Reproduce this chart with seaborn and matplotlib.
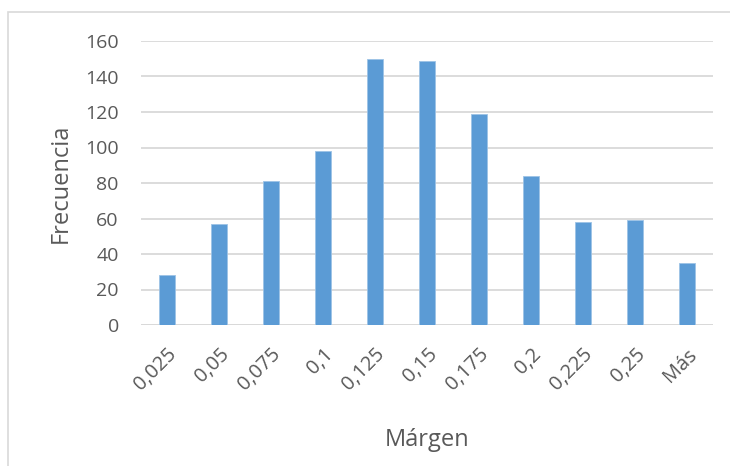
import matplotlib
matplotlib.use("Agg")
import matplotlib.pyplot as plt
import seaborn as sns
import pandas as pd
from matplotlib.patches import Rectangle

# Frequency histogram of margins (bins labelled by upper limit)
categories = ["0,025", "0,05", "0,075", "0,1", "0,125", "0,15",
              "0,175", "0,2", "0,225", "0,25", "Más"]
frequencies = [28, 57, 81, 98, 150, 149, 119, 84, 58, 59, 35]
y_ticks = [0, 20, 40, 60, 80, 100, 120, 140, 160]

df = pd.DataFrame({"Márgen": categories, "Frecuencia": frequencies})

sns.set_theme(style="white")
plt.rcParams["font.family"] = ["Open Sans", "DejaVu Sans"]

text_color = "#595959"
bar_color = "#5B9BD5"
grid_color = "#D9D9D9"

fig = plt.figure(figsize=(7.30, 4.66), dpi=100)
ax = fig.add_axes([141 / 730, 1 - 325 / 466, 572 / 730, 284 / 466])

sns.barplot(data=df, x="Márgen", y="Frecuencia", ax=ax, color=bar_color,
            width=0.31, saturation=1, edgecolor="#9DC3E6", linewidth=0.6,
            zorder=3)

ax.set_xlim(-0.5, len(categories) - 0.5)
ax.set_ylim(0, 160)
ax.set_yticks(y_ticks)
ax.set_yticklabels([str(v) for v in y_ticks])
ax.yaxis.grid(True, color=grid_color, linewidth=1.3, zorder=0)
ax.set_axisbelow(True)
for s in ax.spines.values():
    s.set_visible(False)
ax.axhline(0, color=grid_color, linewidth=1.3, zorder=1)

ax.tick_params(axis="both", length=0, colors=text_color)
ax.tick_params(axis="y", pad=16, labelsize=14)
ax.tick_params(axis="x", pad=14, labelsize=14.5)
for lbl in ax.get_xticklabels():
    lbl.set_rotation(45)
    lbl.set_ha("right")
    lbl.set_va("top")
    lbl.set_rotation_mode("anchor")

ax.set_xlabel("Márgen", color=text_color, fontsize=17, labelpad=24)
ax.set_ylabel("Frecuencia", color=text_color, fontsize=17, labelpad=9)

# Chart-area frame
fig.patches.append(Rectangle((8 / 730, -0.1), 1.2, 1 - 12 / 466 + 0.1,
                             transform=fig.transFigure, fill=False,
                             edgecolor="#D9D9D9", linewidth=1.2))

fig.savefig("out.png", dpi=100)
